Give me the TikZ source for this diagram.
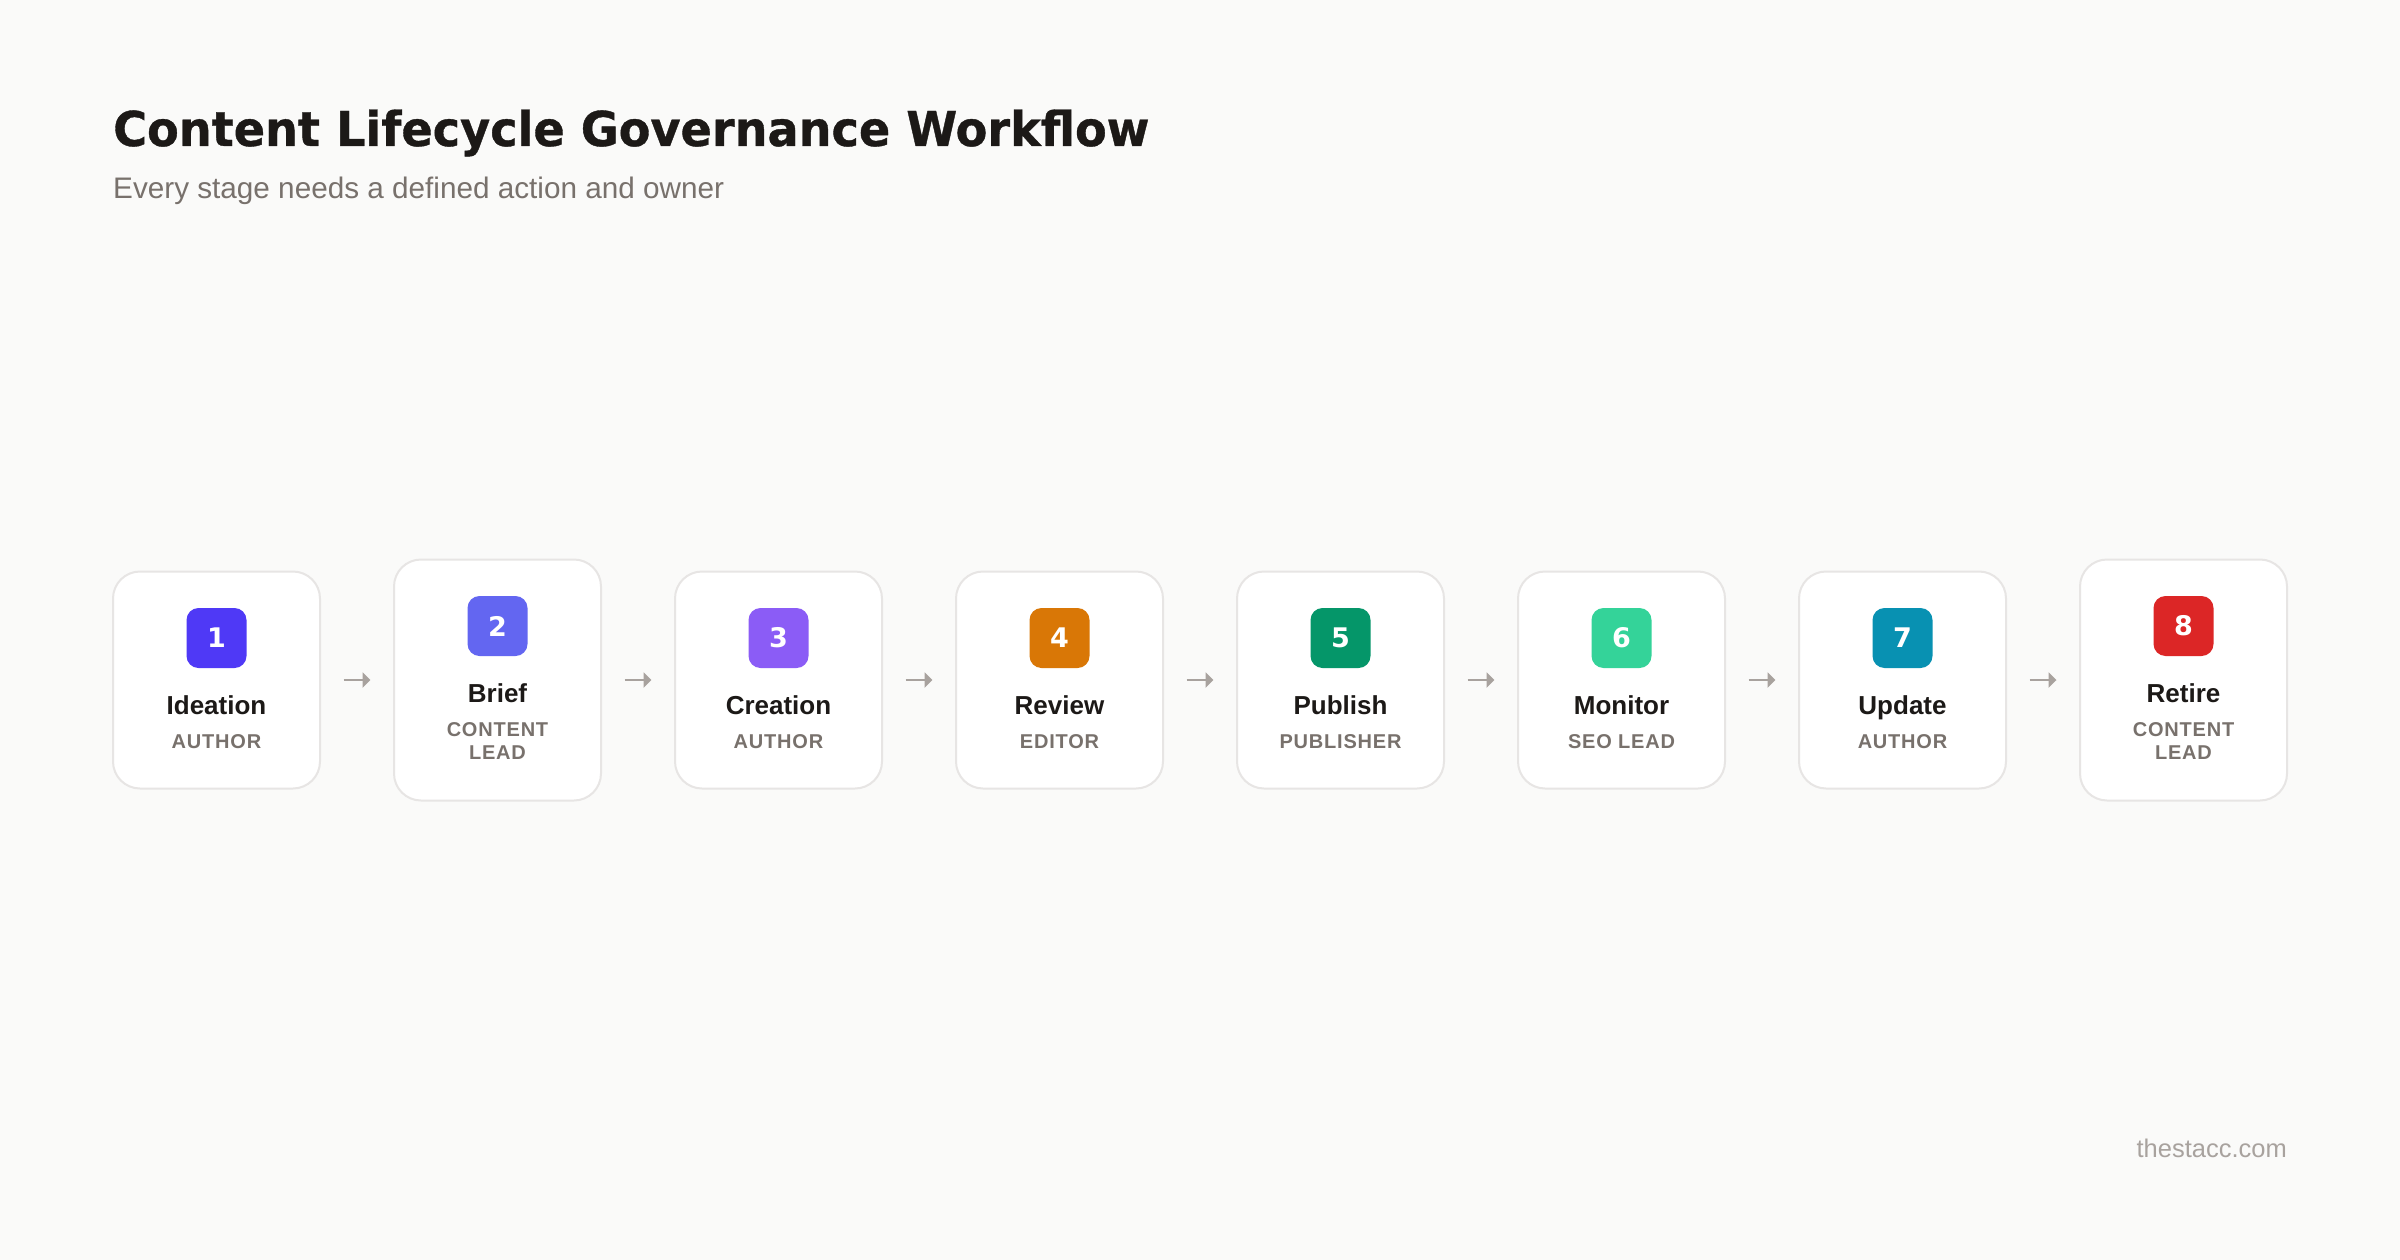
\documentclass[tikz,border=0pt]{standalone}
\usepackage{graphicx}
\usepackage{fontspec}
\setmainfont{Liberation Sans}
\newfontfamily\titlefont{DejaVu Sans}
\newfontfamily\heavyfont[FakeBold=0.8]{DejaVu Sans}
\newfontfamily\rolefont[LetterSpace=4]{Liberation Sans}
\usetikzlibrary{arrows.meta}
\definecolor{bg}{HTML}{FAFAF9}
\definecolor{cardline}{HTML}{E7E5E4}
\definecolor{ink}{HTML}{1C1917}
\definecolor{muted}{HTML}{78716C}
\definecolor{faint}{HTML}{A8A29E}
\definecolor{c1}{HTML}{4F39F6}
\definecolor{c2}{HTML}{6366F1}
\definecolor{c3}{HTML}{8B5CF6}
\definecolor{c4}{HTML}{D97706}
\definecolor{c5}{HTML}{059669}
\definecolor{c6}{HTML}{34D399}
\definecolor{c7}{HTML}{0891B2}
\definecolor{c8}{HTML}{DC2626}
\tikzset{
  card/.style={draw=cardline, line width=2pt, fill=white, rounded corners=27pt,
    minimum width=207pt, inner sep=0pt},
  cardone/.style={card, minimum height=217pt},
  cardtwo/.style={card, minimum height=241pt},
  badge/.style={rounded corners=12pt, minimum size=60pt, inner sep=0pt, text=white,
    font=\titlefont\bfseries\fontsize{27}{27}\selectfont},
  stagename/.style={anchor=base, inner sep=0pt, text=ink,
    font=\bfseries\fontsize{26}{30}\selectfont},
  rolename/.style={anchor=base, inner sep=0pt, text=muted,
    font=\rolefont\bfseries\fontsize{20}{23}\selectfont},
  arr/.style={draw=faint, line width=2pt, -{Triangle[length=8pt,width=15pt]}},
}
\begin{document}
\begin{tikzpicture}[x=1pt,y=-1pt]
\fill[bg] (0,0) rectangle (2400,1260);
\useasboundingbox (0,0) rectangle (2400,1260);

\node[anchor=base west, inner sep=0pt, text=ink] (title) at (113,146)
  {\scalebox{0.962}[1]{\heavyfont\bfseries\fontsize{48}{56}\selectfont Content Lifecycle Governance Workflow}};
\node[anchor=base west, inner sep=0pt, text=muted] (subtitle) at (113,198)
  {\fontsize{29.7}{34}\selectfont Every stage needs a defined action and owner};
\node[anchor=base east, inner sep=0pt, text=faint] (footer) at (2287,1157)
  {\fontsize{25.5}{30}\selectfont thestacc.com};

% 1
\node[cardone] (b1) at (216.5,680) {};
\node[badge, fill=c1] (n1) at (216.5,638) {1};
\node[stagename] (t1) at (216.5,714) {Ideation};
\node[rolename] (r1) at (216.5,748) {AUTHOR};
% 2
\node[cardtwo] (b2) at (497.5,680) {};
\node[badge, fill=c2] (n2) at (497.5,626) {2};
\node[stagename] (t2) at (497.5,702) {Brief};
\node[rolename] (r2) at (497.5,736) {CONTENT};
\node[rolename] (r2b) at (497.5,759) {LEAD};
% 3
\node[cardone] (b3) at (778.5,680) {};
\node[badge, fill=c3] (n3) at (778.5,638) {3};
\node[stagename] (t3) at (778.5,714) {Creation};
\node[rolename] (r3) at (778.5,748) {AUTHOR};
% 4
\node[cardone] (b4) at (1059.5,680) {};
\node[badge, fill=c4] (n4) at (1059.5,638) {4};
\node[stagename] (t4) at (1059.5,714) {Review};
\node[rolename] (r4) at (1059.5,748) {EDITOR};
% 5
\node[cardone] (b5) at (1340.5,680) {};
\node[badge, fill=c5] (n5) at (1340.5,638) {5};
\node[stagename] (t5) at (1340.5,714) {Publish};
\node[rolename] (r5) at (1340.5,748) {PUBLISHER};
% 6
\node[cardone] (b6) at (1621.5,680) {};
\node[badge, fill=c6] (n6) at (1621.5,638) {6};
\node[stagename] (t6) at (1621.5,714) {Monitor};
\node[rolename] (r6) at (1621.5,748) {SEO LEAD};
% 7
\node[cardone] (b7) at (1902.5,680) {};
\node[badge, fill=c7] (n7) at (1902.5,638) {7};
\node[stagename] (t7) at (1902.5,714) {Update};
\node[rolename] (r7) at (1902.5,748) {AUTHOR};
% 8
\node[cardtwo] (b8) at (2183.5,680) {};
\node[badge, fill=c8] (n8) at (2183.5,626) {8};
\node[stagename] (t8) at (2183.5,702) {Retire};
\node[rolename] (r8) at (2183.5,736) {CONTENT};
\node[rolename] (r8b) at (2183.5,759) {LEAD};

\foreach \a/\b in {b1/b2,b2/b3,b3/b4,b4/b5,b5/b6,b6/b7,b7/b8}
  \draw[arr] ([xshift=22.5pt]\a.east) -- ([xshift=-22.5pt]\b.west);
\end{tikzpicture}
\end{document}
